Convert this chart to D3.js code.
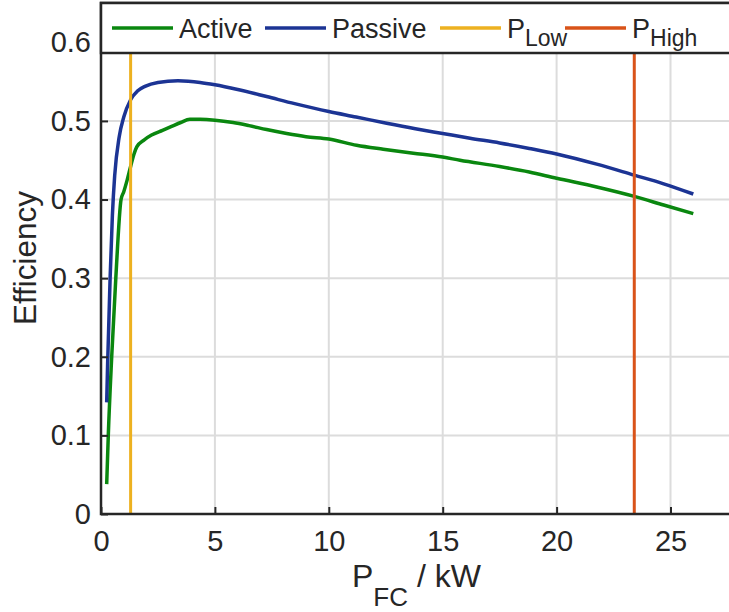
<!DOCTYPE html>
<html>
<head>
<meta charset="utf-8">
<script src="https://cdn.jsdelivr.net/npm/d3@7"></script>
<style>
  body { margin: 0; background: #fff; }
  svg { display: block; }
  text { font-family: "Liberation Sans", Arial, sans-serif; fill: #262626; }
</style>
</head>
<body>
<div id="chart"></div>
<script>
// fuel cell power (kW) vs efficiency
const activeP = [0.25, 0.32, 0.47, 0.65, 0.88, 1.0, 1.15, 1.30, 1.45, 1.57, 1.9, 2.22, 2.7, 3.1, 3.5, 3.9, 4.35, 5, 5.8, 6.5, 7.27, 8.15, 9, 10, 11.22, 12.39, 13.71, 15, 15.76, 17.5, 18.8, 20, 21.76, 23.41, 24.7, 26.0];
const activeEff = [0.038, 0.10, 0.20, 0.30, 0.40, 0.41, 0.425, 0.442, 0.458, 0.467, 0.476, 0.482, 0.488, 0.493, 0.498, 0.502, 0.502, 0.501, 0.498, 0.494, 0.489, 0.484, 0.480, 0.477, 0.469, 0.464, 0.459, 0.454, 0.450, 0.442, 0.435, 0.427, 0.416, 0.404, 0.393, 0.382];

const passiveP = [0.25, 0.29, 0.33, 0.40, 0.50, 0.60, 0.80, 1.00, 1.30, 1.60, 1.93, 2.5, 3.38, 4.35, 5, 6, 7.27, 8.5, 10, 11.2, 12.54, 13.8, 15, 16.2, 17.5, 18.8, 20, 21.76, 23.41, 24.7, 26.0];
const passiveEff = [0.142, 0.19, 0.23, 0.30, 0.38, 0.43, 0.48, 0.505, 0.527, 0.538, 0.544, 0.549, 0.551, 0.549, 0.546, 0.540, 0.531, 0.522, 0.512, 0.505, 0.497, 0.490, 0.484, 0.478, 0.472, 0.465, 0.458, 0.445, 0.431, 0.420, 0.407];

const pLow = 1.30;
const pHigh = 23.41;

const xTicks = [0, 5, 10, 15, 20, 25];
const yTicks = [0, 0.1, 0.2, 0.3, 0.4, 0.5, 0.6];

const width = 729, height = 612;
const margin = {top: 3, left: 101, bottom: 98};
const axisColor = "#262626";
const gridColor = "#dcdcdc";

const svg = d3.select("#chart").append("svg")
    .attr("width", width)
    .attr("height", height);

const x = d3.scaleLinear().domain([0, 28]).range([margin.left, margin.left + 28 * 22.78]);
const y = d3.scaleLinear().domain([0, 0.65]).range([height - margin.bottom, margin.top]);
const x0 = x.range()[0], x1 = x.range()[1];
const y0 = y.range()[0], y1 = y.range()[1];

// grid
const grid = svg.append("g");
grid.selectAll(".gx").data(xTicks.filter(d => d > 0)).enter().append("line")
    .attr("x1", d => x(d)).attr("x2", d => x(d))
    .attr("y1", y0).attr("y2", y1)
    .style("stroke", gridColor).style("stroke-width", 2);
grid.selectAll(".gy").data(yTicks.filter(d => d > 0)).enter().append("line")
    .attr("x1", x0).attr("x2", x1)
    .attr("y1", d => y(d)).attr("y2", d => y(d))
    .style("stroke", gridColor).style("stroke-width", 2);

// efficiency curves
const line = d3.line()
    .x(d => x(d[0]))
    .y(d => y(d[1]))
    .curve(d3.curveMonotoneX);

const series = [
    {name: "Active", color: "#0a870f", data: d3.zip(activeP, activeEff)},
    {name: "Passive", color: "#1c3494", data: d3.zip(passiveP, passiveEff)}
];

svg.selectAll(".curve").data(series).enter().append("path")
    .attr("d", d => line(d.data))
    .style("fill", "none")
    .style("stroke", d => d.color)
    .style("stroke-width", 3.5)
    .style("stroke-linejoin", "round");

// power limits
const limits = [
    {value: pLow, color: "#edb120"},
    {value: pHigh, color: "#d95319"}
];
svg.selectAll(".limit").data(limits).enter().append("line")
    .attr("x1", d => x(d.value)).attr("x2", d => x(d.value))
    .attr("y1", y0).attr("y2", y1)
    .style("stroke", d => d.color)
    .style("stroke-width", 3);

// axes (matlab style, ticks inside)
const xAxis = d3.axisBottom(x).tickValues(xTicks).tickSize(-7).tickPadding(16).tickFormat(d3.format("d"));
const yAxis = d3.axisLeft(y).tickValues(yTicks).tickSize(-7).tickPadding(10).tickFormat(d => d === 0 ? "0" : d3.format(".1f")(d));

const gx = svg.append("g").attr("transform", `translate(0,${y0})`).call(xAxis);
const gy = svg.append("g").attr("transform", `translate(${x0},0)`).call(yAxis);
[gx, gy].forEach(g => {
    g.select(".domain").remove();
    g.selectAll(".tick line").style("stroke", axisColor).style("stroke-width", 2);
    g.selectAll(".tick text").style("font-size", "29px").style("fill", axisColor);
});

svg.append("path")
    .attr("d", `M${x1},${y1}H${x0}V${y0}H${x1}`)
    .style("fill", "none")
    .style("stroke", axisColor)
    .style("stroke-width", 2.5);

// axis labels
const xl = svg.append("text")
    .attr("x", 352).attr("y", 587)
    .style("font-size", "32px");
xl.append("tspan").text("P");
xl.append("tspan").attr("dy", 19).style("font-size", "26px").text("FC");
xl.append("tspan").attr("dy", -19).text(" / kW");

svg.append("text")
    .attr("transform", "translate(36,258) rotate(-90)")
    .attr("text-anchor", "middle")
    .style("font-size", "31.5px")
    .text("Efficiency");

// legend
const legendItems = [
    {label: "Active", sub: "", color: "#0a870f", x: 112},
    {label: "Passive", sub: "", color: "#1c3494", x: 265},
    {label: "P", sub: "Low", color: "#edb120", x: 440},
    {label: "P", sub: "High", color: "#d95319", x: 565}
];

svg.append("rect")
    .attr("x", x0).attr("y", y1)
    .attr("width", x1 - x0).attr("height", 50)
    .style("fill", "#fff")
    .style("stroke", axisColor)
    .style("stroke-width", 2.5);

const lg = svg.selectAll(".leg").data(legendItems).enter().append("g")
    .attr("transform", d => `translate(${d.x},28)`);
lg.append("line")
    .attr("x1", 0).attr("x2", 61)
    .style("stroke", d => d.color)
    .style("stroke-width", 3.5);
const lt = lg.append("text")
    .attr("x", 67).attr("y", 10)
    .style("font-size", "27px");
lt.append("tspan").text(d => d.label);
lt.append("tspan").attr("dy", 8).style("font-size", "23px").text(d => d.sub);
</script>
</body>
</html>
